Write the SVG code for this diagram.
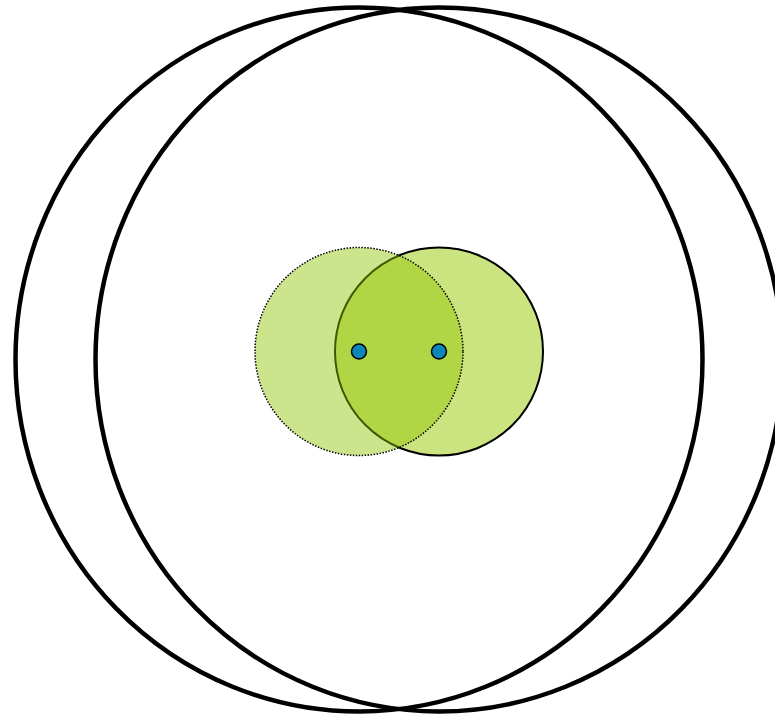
<svg xmlns="http://www.w3.org/2000/svg" width="775" height="716" viewBox="0 0 775 716">
<style>
.big{fill:none;stroke:#000;stroke-width:4.5}
.dot{fill:#0A86B8;stroke:#000;stroke-width:1.5}
</style>
<rect width="775" height="716" fill="#fff"/>
<g id="outer-left"><ellipse class="big" cx="359" cy="359.5" rx="343.5" ry="352"/></g>
<g id="outer-right"><ellipse class="big" cx="439" cy="359.5" rx="343.5" ry="352"/></g>
<g id="range-right"><circle cx="439" cy="351.5" r="104" fill="#CCE47F" stroke="#000" stroke-width="2"/></g>
<g id="range-left"><circle cx="359" cy="351.5" r="104" fill="rgb(142,195,0)" fill-opacity="0.45" stroke="#000" stroke-width="1.5" stroke-dasharray="1.5 1.5"/></g>
<g id="point-left"><circle class="dot" cx="359" cy="351.5" r="7.5"/></g>
<g id="point-right"><circle class="dot" cx="439" cy="351.5" r="7.5"/></g>
</svg>
